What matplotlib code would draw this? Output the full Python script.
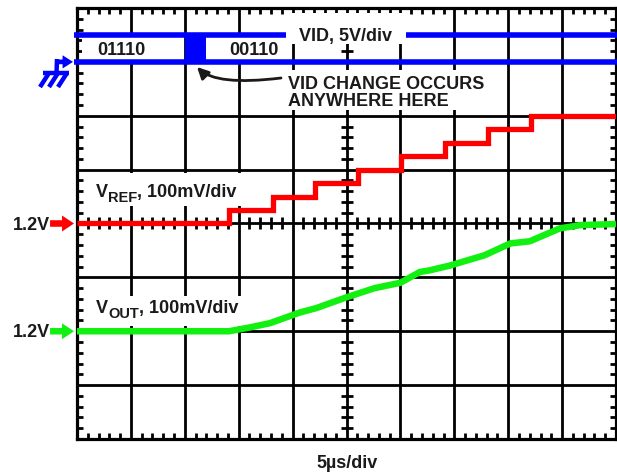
import matplotlib
matplotlib.use('Agg')
import matplotlib.pyplot as plt
import numpy as np
from matplotlib.transforms import Affine2D
from matplotlib.ticker import MultipleLocator
from matplotlib.lines import Line2D
from matplotlib.patches import Rectangle

plt.rcParams['font.family'] = ['Liberation Sans', 'DejaVu Sans']
plt.rcParams['font.weight'] = 'bold'

# ---------------- data ----------------
us_per_div = 5
n_xdiv = 10
n_ydiv = 8
mv_per_div = 100
vref_zero_div = 4      # 1.2V reference level of VREF trace
vout_zero_div = 2      # 1.2V reference level of VOUT trace

vref_step_times_us = [0, 14.1, 18.2, 22.1, 26.1, 30.1, 34.1, 38.1, 42.1, 50]
vref_mV = [0, 25, 50, 75, 100, 125, 150, 175, 200, 200]

vout_times_us = [0, 6.8, 14.1, 16.0, 17.9, 20.7, 22.2, 25.0, 27.6, 30.0,
                 31.8, 32.7, 34.6, 37.8, 40.2, 42.0, 44.8, 46.7, 50.0]
vout_mV = [0, 0, 0, 7, 15, 35, 43, 63, 80, 90,
           110, 113, 122, 141, 163, 167, 191, 197, 199]

vid_low_div, vid_high_div = 7.0, 7.5
vid_change_us = [10.0, 12.0]
vid_codes = ['01110', '00110']
vid_code_times_us = [4.1, 16.4]
vid_label_gap_us = [19.4, 30.5]

# ---------------- figure ----------------
W, H = 617, 473
fig = plt.figure(figsize=(W / 100, H / 100), dpi=100)
fig.patch.set_facecolor('white')
ax = fig.add_axes([77 / W, 1 - 439 / H, 539 / W, 431 / H])
tmax = us_per_div * n_xdiv
ax.set_xlim(0, tmax)
ax.set_ylim(0, n_ydiv)
renderer = fig.canvas.get_renderer()

# pixel transform for decorations
T = Affine2D().scale(1 / W, -1 / H).translate(0, 1) + fig.transFigure

# grid
for t in range(us_per_div, tmax, us_per_div):
    ax.axvline(t, color='black', lw=2.0, zorder=1)
for y in range(1, n_ydiv):
    ax.axhline(y, color='black', lw=2.0, zorder=1)
for s in ax.spines.values():
    s.set_linewidth(2.3)
    s.set_color('black')

ax.xaxis.set_major_locator(MultipleLocator(us_per_div))
ax.yaxis.set_major_locator(MultipleLocator(1))
ax.xaxis.set_minor_locator(MultipleLocator(us_per_div / 5))
ax.yaxis.set_minor_locator(MultipleLocator(0.2))
ax.tick_params(which='both', direction='in', top=True, right=True,
               labelbottom=False, labelleft=False, colors='black')
ax.tick_params(which='major', length=0)
ax.tick_params(which='minor', length=4.5, width=2)

# center cross ticks
cx = np.arange(0, tmax + 0.01, us_per_div / 5)
cx = cx[np.abs(cx / us_per_div - np.round(cx / us_per_div)) > 1e-6]
ax.plot(cx, np.full(len(cx), n_ydiv / 2), ls='', marker='|', ms=8, mew=2, color='black', zorder=2)
cy = np.arange(0, n_ydiv + 0.01, 0.2)
cy = cy[np.abs(cy - np.round(cy)) > 1e-6]
ax.plot(np.full(len(cy), tmax / 2), cy, ls='', marker='_', ms=8, mew=2, color='black', zorder=2)

# white label backgrounds (pixel boxes: x0, y0, x1, y1)
label_boxes = [
    (287, 13, 405, 44),    # VID, 5V/div
    (82, 36, 181, 60),     # 01110
    (209, 36, 289, 60),    # 00110
    (283, 70, 496, 110),   # VID CHANGE OCCURS / ANYWHERE HERE
    (85, 173, 246, 206),   # VREF label
    (85, 296, 248, 326),   # VOUT label
]
for x0, y0, x1, y1 in label_boxes:
    ax.add_patch(Rectangle((x0, y0), x1 - x0, y1 - y0, transform=T, facecolor='white',
                           edgecolor='none', zorder=2.2))

# VID trace
blue = '#0000ff'
ax.plot([-0.3, vid_label_gap_us[0]], [vid_high_div] * 2, color=blue, lw=4, clip_on=False,
        solid_capstyle='butt', zorder=4)
ax.plot([vid_label_gap_us[1], tmax + 0.2], [vid_high_div] * 2, color=blue, lw=4, clip_on=False,
        solid_capstyle='butt', zorder=4)
ax.plot([-0.3, tmax + 0.2], [vid_low_div] * 2, color=blue, lw=4, clip_on=False,
        solid_capstyle='butt', zorder=4)
ax.fill_between(vid_change_us, vid_low_div, vid_high_div, color=blue, lw=0, zorder=4)

# VREF
vref_div = [vref_zero_div + v / mv_per_div for v in vref_mV]
ax.plot(vref_step_times_us, vref_div, drawstyle='steps-post', color='#ff0000', lw=3.8,
        solid_joinstyle='miter', solid_capstyle='butt', zorder=5)

# VOUT
vout_div = [vout_zero_div + v / mv_per_div for v in vout_mV]
ax.plot(vout_times_us, vout_div, color='#11f011', lw=4.7, solid_capstyle='butt', zorder=5)

# text
tcol = '#1a1a1a'
fs = 13

def ptext(x, y, s, size=fs, **kw):
    return fig.text(x / W, 1 - y / H, s, fontsize=size, fontweight='bold', color=tcol,
                    va='baseline', **kw)

def right_px(t):
    bb = t.get_window_extent(renderer)
    return bb.x1

def sub_label(x, y, main, sub, rest, sub_drop):
    t1 = ptext(x, y, main)
    x2 = right_px(t1)
    t2 = ptext(x2, y + sub_drop, sub, size=10.5)
    x3 = right_px(t2)
    ptext(x3, y, rest)

for code, tc in zip(vid_codes, vid_code_times_us):
    ax.text(tc, (vid_low_div + vid_high_div) / 2, code, fontsize=fs, fontweight='bold',
            color=tcol, ha='center', va='center_baseline', zorder=3)
ax.text(sum(vid_label_gap_us) / 2, vid_high_div, 'VID, 5V/div', fontsize=fs, fontweight='bold',
        color=tcol, ha='center', va='center_baseline', zorder=3)

ptext(288, 89, 'VID CHANGE OCCURS')
ptext(288, 106, 'ANYWHERE HERE')
sub_label(96, 197, 'V', 'REF', ', 100mV/div', 5)
sub_label(96, 313, 'V', 'OUT', ', 100mV/div', 4.5)
ptext(347, 468, '5\u00b5s/div', ha='center')
ptext(50, 230, '1.2V', ha='right')
ptext(50, 337, '1.2V', ha='right')

# level arrows
for lvl, col in [(vref_zero_div, '#ff0000'), (vout_zero_div, '#11f011')]:
    ax.annotate('', xy=(-0.0056, lvl), xycoords=('axes fraction', 'data'),
                xytext=(-0.05, lvl), textcoords=('axes fraction', 'data'),
                arrowprops=dict(arrowstyle='simple,head_length=0.86,head_width=1.15,tail_width=0.47',
                                color=col, mutation_scale=10, shrinkA=0, shrinkB=0, lw=0))

# ground arrow
ax.annotate('', xy=(-0.0074, vid_low_div), xycoords=('axes fraction', 'data'),
            xytext=(-0.04, vid_low_div), textcoords=('axes fraction', 'data'),
            arrowprops=dict(arrowstyle='simple,head_length=0.75,head_width=0.95,tail_width=0.34',
                            color=blue, mutation_scale=10, shrinkA=0, shrinkB=0, lw=0))
gnd_segments = [
    ([57, 56.5], [59, 74]),
    ([43, 69], [73, 73]),
    ([49, 40], [73, 87]),
    ([58, 49], [73, 87]),
    ([67, 58], [73, 87]),
]
for xs, ys in gnd_segments:
    fig.add_artist(Line2D(xs, ys, transform=T, color=blue, lw=3.2, solid_capstyle='butt'))

# annotation arrow
ax.annotate('', xy=(197, 67), xycoords=T, xytext=(281, 78), textcoords=T,
            arrowprops=dict(arrowstyle='-|>', color=tcol, lw=2.0, mutation_scale=17,
                            connectionstyle='angle3,angleA=7,angleB=-45',
                            shrinkA=0, shrinkB=0), zorder=3)

fig.savefig('out.png', dpi=100)
